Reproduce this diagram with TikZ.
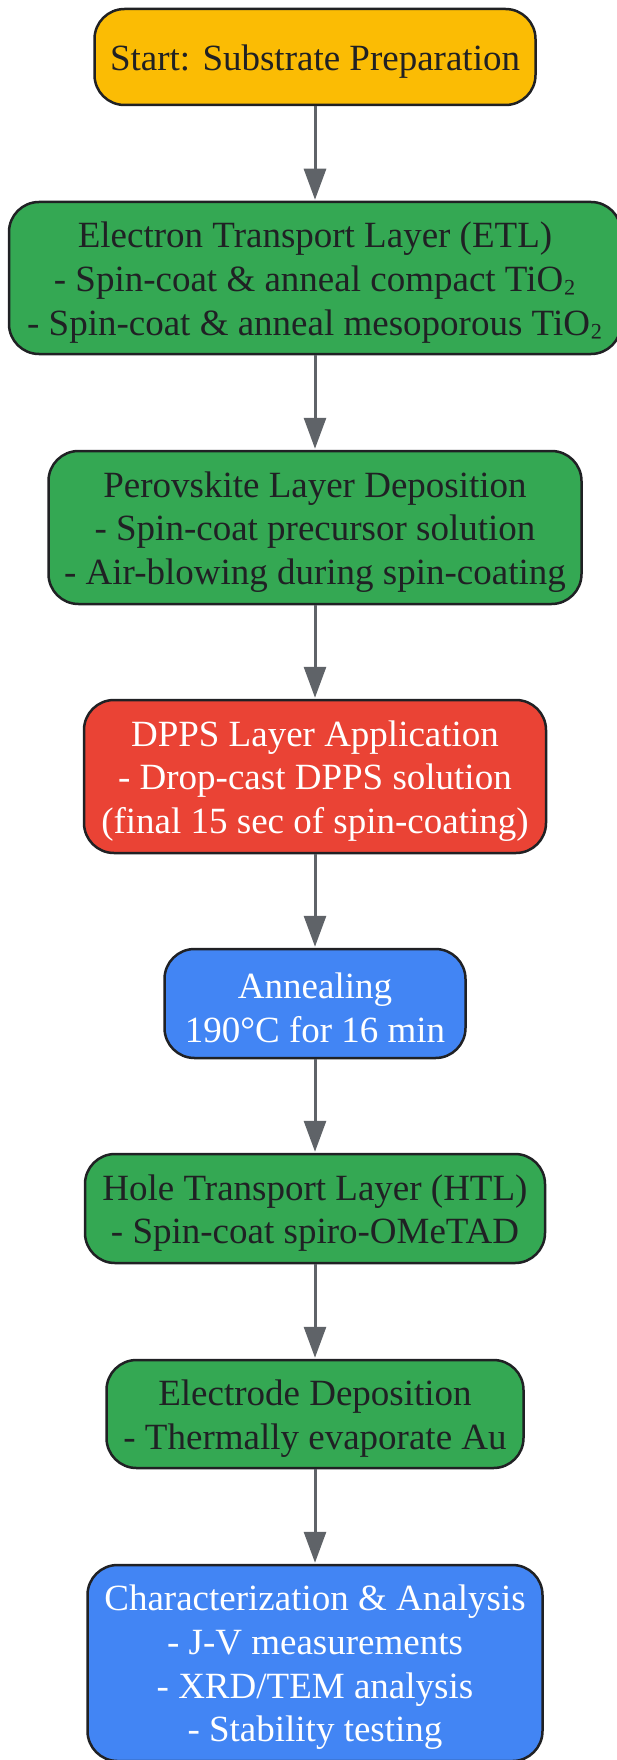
\documentclass[tikz,border=0pt]{standalone}
\usepackage{fontspec}
\setmainfont{Liberation Serif}
\usetikzlibrary{arrows.meta}
\definecolor{cyellow}{HTML}{FBBC04}
\definecolor{cgreen}{HTML}{34A853}
\definecolor{cred}{HTML}{EA4335}
\definecolor{cblue}{HTML}{4285F4}
\definecolor{cdark}{HTML}{202124}
\definecolor{carrow}{HTML}{5F6368}
\newcommand{\subtwo}{\raisebox{4pt}{₂}}
\tikzset{
  stepbox/.style={draw=cdark, line width=2.5pt, rounded corners=30pt,
    inner sep=0pt},
  txt/.style={align=center, inner sep=0pt, yshift=-4.5pt,
    font=\fontsize{37}{43.7}\selectfont, text=cdark},
  wtxt/.style={txt, text=white},
  ybox/.style={stepbox, fill=cyellow},
  gbox/.style={stepbox, fill=cgreen},
  rbox/.style={stepbox, fill=cred},
  bbox/.style={stepbox, fill=cblue},
  conn/.style={draw=carrow, line width=3pt, -{Triangle[length=31pt,width=22pt]}, shorten >=1pt}
}
\begin{document}
\begin{tikzpicture}[x=1pt,y=-1pt]
\useasboundingbox (0,0) rectangle (617,1760);
\node[ybox, minimum width=441pt, minimum height=96pt,
  label={[txt]center:Start: Substrate Preparation}] (n1) at (315,57) {};
\node[gbox, minimum width=612pt, minimum height=152pt,
  label={[txt]center:Electron Transport Layer (ETL)\\- Spin-coat \& anneal compact TiO\subtwo\\- Spin-coat \& anneal mesoporous TiO\subtwo}] (n2) at (315,278) {};
\node[gbox, minimum width=533pt, minimum height=153pt,
  label={[txt]center:Perovskite Layer Deposition\\- Spin-coat precursor solution\\- Air-blowing during spin-coating}] (n3) at (315,527.5) {};
\node[rbox, minimum width=462pt, minimum height=153pt,
  label={[wtxt]center:DPPS Layer Application\\- Drop-cast DPPS solution\\(final 15 sec of spin-coating)}] (n4) at (315,776.5) {};
\node[bbox, minimum width=301pt, minimum height=109pt,
  label={[wtxt]center:Annealing\\190°C for 16 min}] (n5) at (315,1003.5) {};
\node[gbox, minimum width=460pt, minimum height=109pt,
  label={[txt]center:Hole Transport Layer (HTL)\\- Spin-coat spiro-OMeTAD}] (n6) at (315,1208.5) {};
\node[gbox, minimum width=417pt, minimum height=108pt,
  label={[txt]center:Electrode Deposition\\- Thermally evaporate Au}] (n7) at (315,1414) {};
\node[bbox, minimum width=455pt, minimum height=196pt,
  label={[wtxt]center:Characterization \& Analysis\\- J-V measurements\\- XRD/TEM analysis\\- Stability testing}] (n8) at (315,1663) {};
\foreach \a/\b in {n1/n2,n2/n3,n3/n4,n4/n5,n5/n6,n6/n7,n7/n8}
  \draw[conn] (\a) -- (\b);
\end{tikzpicture}
\end{document}
